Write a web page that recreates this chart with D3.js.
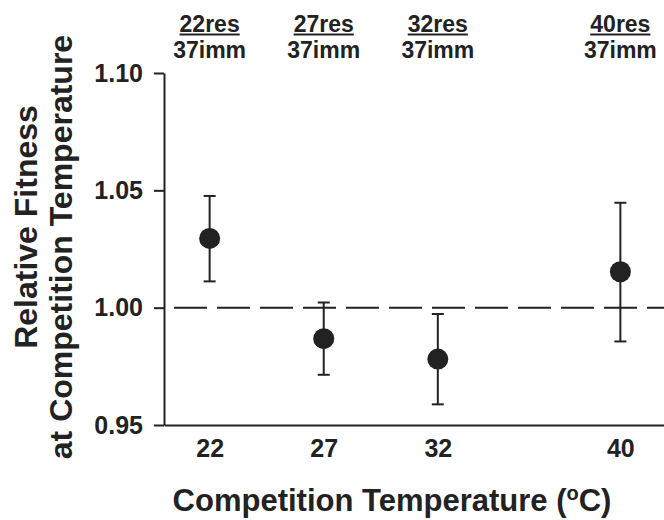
<!DOCTYPE html>
<html>
<head>
<meta charset="utf-8">
<script src="https://cdn.jsdelivr.net/npm/d3@7"></script>
<style>
  body { margin: 0; background: #fff; }
  svg { display: block; font-family: "Liberation Sans", Arial, sans-serif; font-weight: bold; }
  .axis path, .axis line { stroke: #222; stroke-width: 2px; }
  .axis text { fill: #222; font-size: 25px; font-weight: bold; font-family: "Liberation Sans", Arial, sans-serif; }
</style>
</head>
<body>
<svg></svg>
<script>
const temps = [22, 27, 32, 40];
const fitness = [1.0295, 0.9868, 0.9781, 1.0153];
const upper = [1.0476, 1.0022, 0.9973, 1.0447];
const lower = [1.0112, 0.9714, 0.9588, 0.9856];
const resLabels = ['22res', '27res', '32res', '40res'];
const immLabels = ['37imm', '37imm', '37imm', '37imm'];
const yTicks = [0.95, 1.0, 1.05, 1.1];

const width = 664;
const height = 520;
const ink = '#222';

const svg = d3.select('svg').attr('width', width).attr('height', height);

const x = d3.scaleLinear().domain([20, 42]).range([164, 666]);
const y = d3.scaleLinear().domain([0.95, 1.1]).range([425, 73]);

// y axis
svg
  .append('g')
  .attr('class', 'axis')
  .attr('transform', 'translate(164,0)')
  .call(
    d3.axisLeft(y).tickValues(yTicks).tickFormat(d3.format('.2f')).tickSize(10).tickSizeOuter(0).tickPadding(11)
  );

// x axis
svg
  .append('g')
  .attr('class', 'axis')
  .attr('transform', 'translate(0,425)')
  .call(d3.axisBottom(x).tickValues(temps).tickFormat(d3.format('d')).tickSize(0).tickSizeOuter(0).tickPadding(14));

// reference line at 1.00
svg
  .append('line')
  .attr('x1', x(20))
  .attr('x2', width)
  .attr('y1', y(1))
  .attr('y2', y(1))
  .attr('stroke', ink)
  .attr('stroke-width', 2)
  .attr('stroke-dasharray', '33,10')
  .attr('stroke-dashoffset', -10);

// error bars
const pts = temps.map((t, i) => ({ t, v: fitness[i], hi: upper[i], lo: lower[i] }));
const bars = svg.append('g').selectAll('g').data(pts).join('g');
bars
  .append('line')
  .attr('x1', (d) => x(d.t))
  .attr('x2', (d) => x(d.t))
  .attr('y1', (d) => y(d.hi))
  .attr('y2', (d) => y(d.lo))
  .attr('stroke', ink)
  .attr('stroke-width', 2);
['hi', 'lo'].forEach((k) => {
  bars
    .append('line')
    .attr('x1', (d) => x(d.t) - 6)
    .attr('x2', (d) => x(d.t) + 6)
    .attr('y1', (d) => y(d[k]))
    .attr('y2', (d) => y(d[k]))
    .attr('stroke', ink)
    .attr('stroke-width', 2);
});
bars
  .append('circle')
  .attr('cx', (d) => x(d.t))
  .attr('cy', (d) => y(d.v))
  .attr('r', 10.5)
  .attr('fill', ink);

// top labels: res over imm, res underlined
const topLabels = svg.append('g').selectAll('g').data(temps).join('g');
topLabels
  .append('text')
  .attr('class', 'res')
  .attr('x', (d) => x(d))
  .attr('y', 32)
  .attr('text-anchor', 'middle')
  .attr('font-size', 23)
  .attr('fill', ink)
  .text((_, i) => resLabels[i]);
topLabels
  .append('text')
  .attr('x', (d) => x(d))
  .attr('y', 58)
  .attr('text-anchor', 'middle')
  .attr('font-size', 23)
  .attr('fill', ink)
  .text((_, i) => immLabels[i]);
topLabels.each(function (d) {
  const len = d3.select(this).select('text.res').node().getComputedTextLength();
  d3.select(this)
    .append('line')
    .attr('x1', x(d) - len / 2)
    .attr('x2', x(d) + len / 2)
    .attr('y1', 34.5)
    .attr('y2', 34.5)
    .attr('stroke', ink)
    .attr('stroke-width', 2);
});

// y title
svg
  .append('text')
  .attr('transform', 'translate(37,227) rotate(-90)')
  .attr('text-anchor', 'middle')
  .attr('font-size', 32)
  .attr('fill', ink)
  .text('Relative Fitness');
svg
  .append('text')
  .attr('transform', 'translate(72,247) rotate(-90)')
  .attr('text-anchor', 'middle')
  .attr('font-size', 32)
  .attr('fill', ink)
  .text('at Competition Temperature');

// x title
const xt = svg
  .append('text')
  .attr('x', 392)
  .attr('y', 511)
  .attr('text-anchor', 'middle')
  .attr('font-size', 31)
  .attr('fill', ink);
xt.append('tspan').text('Competition Temperature (');
xt.append('tspan').attr('font-size', 20).attr('dy', -11).text('o');
xt.append('tspan').attr('dy', 11).text('C)');
</script>
</body>
</html>
